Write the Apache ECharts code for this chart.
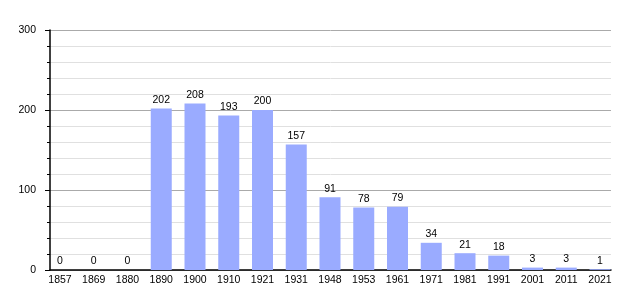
<!DOCTYPE html>
<html><head><meta charset="utf-8">
<script src="https://cdn.jsdelivr.net/npm/echarts@6/dist/echarts.min.js"></script>
<style>html,body{margin:0;padding:0;background:#fff}#c{width:640px;height:300px}</style>
</head><body><div id="c"></div>
<script>
const years = ['1857','1869','1880','1890','1900','1910','1921','1931','1948','1953','1961','1971','1981','1991','2001','2011','2021'];
const population = [0,0,0,202,208,193,200,157,91,78,79,34,21,18,3,3,1];
const yTicks = [0,100,200,300];

const chart = echarts.init(document.getElementById('c'), null, {renderer:'canvas'});
const yMin = yTicks[0], yMax = yTicks[yTicks.length-1];
chart.setOption({
  animation:false,
  textStyle:{fontFamily:'Liberation Sans, Arial, sans-serif'},
  grid:[
    {left:50,right:29,top:30,bottom:30,containLabel:false},
    {left:60,right:40,top:30,bottom:30,containLabel:false}
  ],
  xAxis:[
    {gridIndex:0,type:'value',min:0,max:1,
      axisLine:{show:true,onZero:false,lineStyle:{color:'#000',width:1.5}},
      axisTick:{show:false},axisLabel:{show:false},splitLine:{show:false}},
    {gridIndex:1,type:'category',data:years,boundaryGap:false,
      axisLine:{show:false},axisTick:{show:false},splitLine:{show:false},
      axisLabel:{color:'#000',fontSize:10.5,margin:5,interval:0}}
  ],
  yAxis:[
    {gridIndex:0,type:'value',min:yMin,max:yMax,interval:100,
      axisLine:{show:true,lineStyle:{color:'#000',width:1.5}},
      axisTick:{show:true,inside:false,length:5,lineStyle:{color:'#000'}},
      minorTick:{show:true,splitNumber:5,length:3,lineStyle:{color:'#000'}},
      splitLine:{lineStyle:{color:'#aaa'}},
      minorSplitLine:{show:true,lineStyle:{color:'#e0e0e0'}},
      axisLabel:{color:'#000',fontSize:10.5,margin:14}},
    {gridIndex:1,type:'value',min:yMin,max:yMax,show:false}
  ],
  series:[{type:'bar',xAxisIndex:1,yAxisIndex:1,data:population,barWidth:21,
    itemStyle:{color:'#9aabff'},
    label:{show:true,position:'top',color:'#000',fontSize:10.5,distance:3}}]
});
</script></body></html>
